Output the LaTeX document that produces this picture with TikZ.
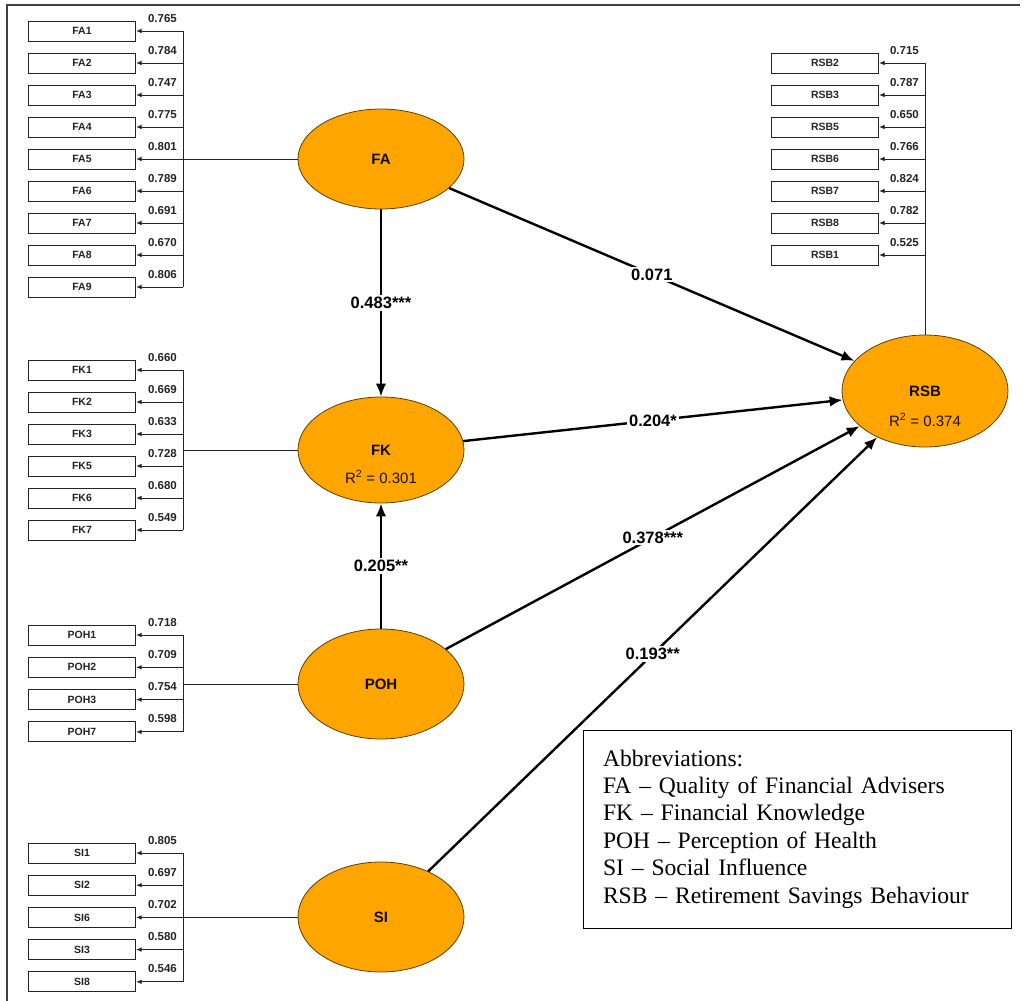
\documentclass[tikz,border=0pt]{standalone}
\usepackage{fontspec}
\setmainfont{Liberation Sans}
\newfontfamily\abbrfont{Liberation Serif}
\usepackage{xcolor}
\usepackage{tikz}
\usetikzlibrary{shapes.geometric, arrows.meta, positioning, calc}
\definecolor{plsorange}{RGB}{255, 165, 0}
\definecolor{plsrim}{RGB}{95, 62, 0}
\definecolor{itemgray}{RGB}{35, 35, 35}

\begin{document}
\begin{tikzpicture}[x=1pt, y=-1pt,
    itembox/.style={draw=itemgray, line width=1pt, minimum width=107pt, minimum height=20pt,
                    inner sep=0pt, text=itemgray, font=\bfseries\fontsize{10.5}{10.5}\selectfont},
    itemline/.style={itemgray, line width=1pt},
    itemarrow/.style={itemline, -{Latex[length=5.5pt, width=4.5pt]}},
    loading/.style={anchor=base east, inner sep=0pt, text=itemgray,
                    font=\bfseries\fontsize{11.5}{11.5}\selectfont},
    latent/.style={ellipse, draw=plsrim, line width=0.8pt, fill=plsorange, minimum width=166pt,
                   inner sep=0pt, text=black!80!plsrim, font=\bfseries\fontsize{15}{15}\selectfont},
    rsq/.style={inner sep=0pt, text=black!70!plsrim, font=\fontsize{15}{15}\selectfont},
    pathline/.style={line width=2.4pt, -{Latex[length=13pt, width=10.5pt]}},
    pathlabel/.style={fill=white, inner sep=2pt, font=\bfseries\fontsize{16.5}{16.5}\selectfont},
    abbrbox/.style={draw, line width=1pt, minimum width=428pt, minimum height=198pt, inner xsep=20pt,
                    text width=388pt, align=left, font=\abbrfont\fontsize{23.6}{27.4}\selectfont}]

    \useasboundingbox (0,0) rectangle (1026,1001);

    % Frame round the figure (cut off at right and bottom)
    \draw[line width=1.4pt, black!75] (7,1001) -- (7,5) -- (1020,5);

    % Latent variables
    \node[latent, minimum height=100pt] (FA) at (381,159) {FA};
    \node[latent, minimum height=106pt] (FK) at (381,450) {FK};
    \node[latent, minimum height=110pt] (POH) at (381,684) {POH};
    \node[latent, minimum height=110pt] (SI) at (381,917) {SI};
    \node[latent, minimum height=112pt] (RSB) at (925,391) {RSB};
    \node[rsq] (FKrsq) at ([yshift=-27pt]FK.center) {R\textsuperscript{2} = 0.301};
    \node[rsq] (RSBrsq) at ([yshift=-29pt]RSB.center) {R\textsuperscript{2} = 0.374};

    % FA indicators
    \foreach \lab/\val [count=\i] in {FA1/0.765, FA2/0.784, FA3/0.747, FA4/0.775, FA5/0.801,
                                      FA6/0.789, FA7/0.691, FA8/0.670, FA9/0.806} {
        \pgfmathsetmacro{\yy}{31+32*(\i-1)}
        \node[itembox] (fa\i) at (82,\yy) {\lab};
        \coordinate (fabus\i) at (183,\yy);
        \draw[itemarrow] (fabus\i) -- (fa\i);
        \node[loading] (faload\i) at (177,{\yy-9}) {\val};
    }
    \draw[itemline] (fabus1) -- (fabus9);
    \draw[itemline] (FA.west) -- (FA.west -| fabus1);

    % FK indicators
    \foreach \lab/\val [count=\i] in {FK1/0.660, FK2/0.669, FK3/0.633, FK5/0.728, FK6/0.680, FK7/0.549} {
        \pgfmathsetmacro{\yy}{370+32*(\i-1)}
        \node[itembox] (fk\i) at (82,\yy) {\lab};
        \coordinate (fkbus\i) at (183,\yy);
        \draw[itemarrow] (fkbus\i) -- (fk\i);
        \node[loading] (fkload\i) at (177,{\yy-9}) {\val};
    }
    \draw[itemline] (fkbus1) -- (fkbus6);
    \draw[itemline] (FK.west) -- (FK.west -| fkbus1);

    % POH indicators
    \foreach \lab/\val [count=\i] in {POH1/0.718, POH2/0.709, POH3/0.754, POH7/0.598} {
        \pgfmathsetmacro{\yy}{635+32.3*(\i-1)}
        \node[itembox] (poh\i) at (82,\yy) {\lab};
        \coordinate (pohbus\i) at (183,\yy);
        \draw[itemarrow] (pohbus\i) -- (poh\i);
        \node[loading] (pohload\i) at (177,{\yy-9}) {\val};
    }
    \draw[itemline] (pohbus1) -- (pohbus4);
    \draw[itemline] (POH.west) -- (POH.west -| pohbus1);

    % SI indicators
    \foreach \lab/\val [count=\i] in {SI1/0.805, SI2/0.697, SI6/0.702, SI3/0.580, SI8/0.546} {
        \pgfmathsetmacro{\yy}{853+32.2*(\i-1)}
        \node[itembox] (si\i) at (82,\yy) {\lab};
        \coordinate (sibus\i) at (183,\yy);
        \draw[itemarrow] (sibus\i) -- (si\i);
        \node[loading] (siload\i) at (177,{\yy-9}) {\val};
    }
    \draw[itemline] (sibus1) -- (sibus5);
    \draw[itemline] (SI.west) -- (SI.west -| sibus1);

    % RSB indicators
    \foreach \lab/\val [count=\i] in {RSB2/0.715, RSB3/0.787, RSB5/0.650, RSB6/0.766,
                                      RSB7/0.824, RSB8/0.782, RSB1/0.525} {
        \pgfmathsetmacro{\yy}{63+32*(\i-1)}
        \node[itembox] (rsb\i) at (825,\yy) {\lab};
        \coordinate (rsbbus\i) at (925,\yy);
        \draw[itemarrow] (rsbbus\i) -- (rsb\i);
        \node[loading] (rsbload\i) at (919,{\yy-9}) {\val};
    }
    \draw[itemline] (rsbbus1) -- (RSB.north);

    % Structural paths
    \draw[pathline] (FA) -- node[pathlabel] (pFAFK) {0.483***} (FK);
    \draw[pathline] (POH) -- node[pathlabel] (pPOHFK) {0.205**} (FK);
    \draw[pathline] (FA) -- node[pathlabel] (pFARSB) {0.071} (RSB);
    \draw[pathline] (FK) -- node[pathlabel] (pFKRSB) {0.204*} (RSB);
    \draw[pathline] (POH) -- node[pathlabel] (pPOHRSB) {0.378***} (RSB);
    \draw[pathline] (SI) -- node[pathlabel] (pSIRSB) {0.193**} (RSB);

    % Abbreviations
    \node[abbrbox] (abbr) at (797,829) {Abbreviations:\\
        FA – Quality of Financial Advisers\\
        FK – Financial Knowledge\\
        POH – Perception of Health\\
        SI – Social Influence\\
        RSB – Retirement Savings Behaviour};
\end{tikzpicture}
\end{document}
